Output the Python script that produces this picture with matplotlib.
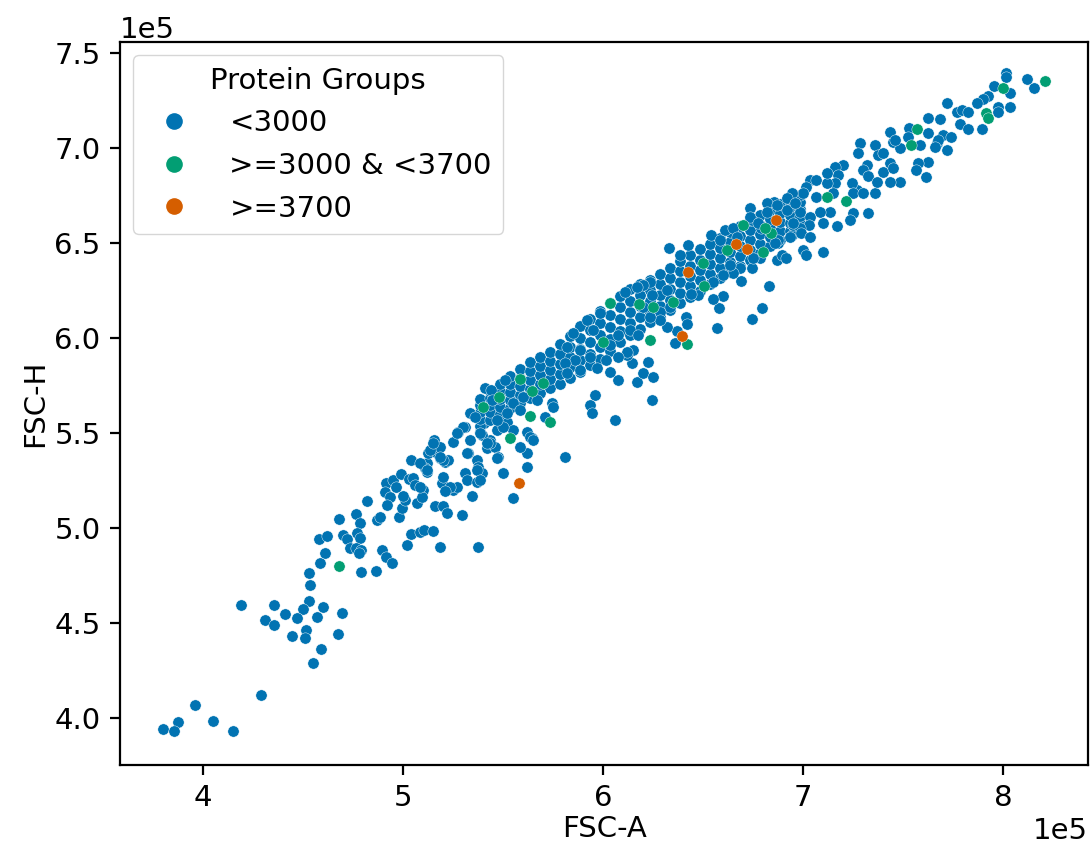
import matplotlib
matplotlib.use("Agg")
import matplotlib.pyplot as plt
from matplotlib.lines import Line2D
import numpy as np

# ---------------- data (values in units of 1e5) ----------------
categories = ["<3000", ">=3000 & <3700", ">=3700"]
colors = ["#0173b2", "#029e73", "#d55e00"]

# sparse low region
blue_low = [
    (4.535, 4.70), (4.19, 4.595), (4.355, 4.595), (4.53, 4.617), (4.60, 4.584),
    (4.50, 4.574), (4.41, 4.547), (4.47, 4.528), (4.57, 4.533), (4.695, 4.553),
    (4.31, 4.516), (4.355, 4.489), (4.515, 4.463), (4.445, 4.432), (4.51, 4.421),
    (4.675, 4.442), (4.59, 4.363), (4.55, 4.289), (4.29, 4.121), (3.96, 4.068),
    (3.875, 3.98), (3.80, 3.942), (3.855, 3.932), (4.05, 3.986), (4.15, 3.933),
]
blue_mid_low = [
    (4.53, 4.765), (4.585, 4.817), (4.61, 4.867), (4.58, 4.94), (4.62, 4.958),
    (4.68, 5.046), (4.70, 4.963), (4.72, 4.94), (4.735, 4.893), (4.765, 5.072),
    (4.785, 5.025), (4.77, 4.972), (4.785, 4.946), (4.765, 4.893), (4.79, 4.884),
    (4.78, 4.867), (4.79, 4.77), (4.82, 5.142), (4.865, 4.775), (4.87, 5.042),
    (4.885, 5.06), (4.895, 4.884), (4.915, 4.849), (4.945, 4.817), (4.915, 5.238),
    (4.91, 5.191), (4.935, 5.165), (4.92, 5.121), (4.95, 5.253), (4.99, 5.283),
    (4.965, 5.217), (4.98, 5.06), (4.995, 5.104), (5.01, 5.147), (5.00, 5.168),
    (5.02, 4.911), (5.04, 4.967), (5.03, 5.256), (5.05, 5.261), (5.04, 5.358),
    (5.06, 5.226), (5.07, 5.13), (5.085, 4.98), (5.105, 4.989), (5.15, 4.986),
    (5.10, 5.20), (5.095, 5.162), (5.12, 5.34), (5.125, 5.393), (5.11, 5.314),
    (5.12, 5.296), (5.155, 5.463), (5.16, 5.419), (5.17, 5.393), (5.16, 5.116),
    (5.185, 4.898), (5.20, 5.116), (5.22, 5.081), (5.195, 5.235), (5.20, 5.27),
    (5.185, 5.367), (5.21, 5.349), (5.225, 5.358), (5.25, 5.20), (5.27, 5.217),
    (5.295, 5.068), (5.25, 5.454), (5.275, 5.507), (5.31, 5.533), (5.325, 5.393),
    (5.31, 5.288), (5.32, 5.253), (5.345, 5.168), (5.37, 5.244), (5.37, 5.358),
    (5.375, 5.323), (5.375, 4.898), (5.395, 5.291), (5.385, 5.507), (5.42, 5.419),
    (5.435, 5.463), (5.46, 5.428), (5.475, 5.375), (5.50, 5.288), (5.47, 5.516),
    (5.55, 5.156), (5.51, 5.551),
    (5.62, 5.507), (5.645, 5.472), (5.185, 5.428), (5.135, 5.411), (5.085, 5.341),
    (5.12, 5.305), (5.20, 5.358), (5.37, 5.305), (5.385, 5.253), (5.235, 5.217),
    (5.47, 5.367), (5.435, 5.446), (5.395, 5.489), (5.405, 5.551), (5.455, 5.604),
    (5.535, 5.708), (5.52, 5.56), (5.55, 5.516), (5.085, 5.217), (5.21, 5.193),
]
blue_mid = [
    (5.51, 5.779), (5.41, 5.735), (5.44, 5.726), (5.445, 5.674), (5.335, 5.604),
    (5.36, 5.586), (5.30, 5.533), (5.27, 5.498), (5.15, 5.446), (5.185, 5.375),
    (5.335, 5.463), (5.385, 5.498), (5.42, 5.446), (5.32, 5.393), (5.62, 5.393),
    (5.62, 5.323), (5.81, 5.375), (5.585, 5.428), (5.635, 5.481), (5.65, 5.463),
    (5.50, 5.533), (5.47, 5.568), (5.52, 5.604), (5.55, 5.656), (5.585, 5.621),
    (5.60, 5.691), (5.67, 5.674), (5.745, 5.656), (5.75, 5.638), (5.71, 5.586),
    (5.96, 5.70), (5.935, 5.647), (5.945, 5.604), (6.06, 5.568), (6.075, 5.779),
    (6.17, 5.77), (6.20, 5.814), (6.25, 5.796), (6.245, 5.674), (6.225, 5.875),
    (6.145, 5.867), (6.15, 5.937), (6.12, 5.91),
    (6.83, 6.274), (6.795, 6.156), (6.745, 6.10), (6.57, 6.051), (6.58, 6.156),
    (6.60, 6.221), (6.55, 6.203), (6.69, 6.30), (6.745, 6.367), (6.87, 6.41),
    (6.895, 6.437), (6.415, 6.112), (6.42, 6.072), (6.37, 6.038), (6.36, 5.975),
    (6.33, 6.472), (6.385, 6.437), (6.425, 6.489), (6.54, 6.542), (6.61, 6.568),
    (6.65, 6.577), (6.79, 6.577), (6.945, 6.542), (6.95, 6.595), (6.875, 6.498),
    (6.785, 6.419), (6.75, 6.419), (6.685, 6.367), (6.65, 6.34), (6.60, 6.332),
    (6.55, 6.296), (6.475, 6.226), (6.44, 6.232), (6.32, 6.253), (6.235, 6.296),
    (6.20, 6.279), (6.11, 6.244), (6.245, 6.226), (6.20, 6.165), (6.285, 6.139),
    (6.32, 6.06), (6.285, 6.095), (6.135, 6.042), (6.075, 6.016), (6.175, 6.016),
    (6.235, 6.112), (5.92, 6.095), (5.985, 6.13), (5.95, 6.042), (5.85, 6.025),
    (5.82, 5.954), (5.885, 5.937), (6.035, 5.963), (6.12, 5.928), (6.075, 5.902),
    (6.015, 5.884), (5.935, 5.902), (5.86, 5.884), (5.81, 5.867), (5.82, 5.814),
    (5.885, 5.832), (5.97, 5.84), (6.035, 5.823), (6.17, 6.27), (6.335, 6.165),
]
blue_high = [
    (7.285, 7.025), (7.36, 7.016), (7.45, 7.033), (7.485, 6.998), (7.585, 7.016),
    (7.67, 7.025), (7.72, 6.989), (7.275, 6.972), (7.375, 6.963), (7.625, 6.928),
    (7.575, 6.919), (7.565, 6.884), (7.615, 6.846), (7.485, 6.823), (7.435, 6.823),
    (7.40, 6.875), (7.435, 6.919), (7.32, 6.911), (7.30, 6.884), (7.36, 6.761),
    (7.325, 6.656), (7.27, 6.779), (7.245, 6.814), (7.20, 6.911), (7.16, 6.902),
    (7.175, 6.858), (7.16, 6.814), (7.25, 6.761), (7.30, 6.761), (7.25, 6.656),
    (7.235, 6.621), (7.17, 6.589), (7.135, 6.665), (7.085, 6.665), (7.10, 6.604),
    (7.065, 6.744), (7.035, 6.832), (7.065, 6.832), (7.015, 6.796), (7.00, 6.761),
    (6.945, 6.761), (6.92, 6.735), (6.855, 6.717), (6.82, 6.709), (6.735, 6.682),
    (6.745, 6.621), (6.92, 6.674), (6.985, 6.665), (7.035, 6.638), (7.03, 6.595),
    (6.985, 6.577), (6.95, 6.604), (6.935, 6.534), (6.99, 6.551), (7.035, 6.534),
    (6.875, 6.516), (6.86, 6.498), (7.10, 6.454), (7.00, 6.463), (7.015, 6.437),
    (6.915, 6.419), (6.635, 6.386), (6.735, 6.638), (6.67, 6.534), (6.585, 6.516),
    (6.775, 6.604), (6.82, 6.665), (6.87, 6.70), (6.96, 6.709), (7.12, 6.814),
    (7.15, 6.761), (7.12, 6.867), (7.325, 6.851), (7.37, 6.823),
    (8.015, 7.396), (8.015, 7.372), (8.12, 7.361), (8.155, 7.314), (7.955, 7.326),
    (8.035, 7.288), (7.925, 7.274), (7.90, 7.256), (7.87, 7.239), (7.975, 7.218),
    (7.975, 7.191), (8.035, 7.218), (7.895, 7.098), (7.72, 7.239), (7.77, 7.191),
    (7.795, 7.20), (7.825, 7.191), (7.785, 7.129), (7.825, 7.10), (7.685, 7.151),
    (7.625, 7.156), (7.625, 7.077), (7.70, 7.068), (7.74, 7.056), (7.675, 7.042),
    (7.66, 7.007), (7.53, 7.103), (7.525, 7.06), (7.435, 7.086), (7.46, 7.042),
    (7.40, 6.972), (7.45, 6.893),
]
# dense core of the cloud: x position and the estimated y values in that column
core_x = [5.385, 5.435, 5.485, 5.535, 5.585, 5.635, 5.685, 5.735, 5.785, 5.835,
          5.885, 5.935, 5.985, 6.035, 6.085, 6.135, 6.185, 6.235, 6.285, 6.335,
          6.385, 6.435, 6.485, 6.535, 6.585, 6.635, 6.685, 6.735, 6.785, 6.835,
          6.885, 6.935, 6.985]
core_y = [
    [5.539, 5.574, 5.610, 5.646, 5.681], [5.571, 5.609, 5.647, 5.685, 5.723],
    [5.599, 5.639, 5.679, 5.719, 5.759], [5.630, 5.673, 5.716, 5.759, 5.802],
    [5.657, 5.702, 5.747, 5.792, 5.837], [5.684, 5.732, 5.779, 5.826, 5.874],
    [5.710, 5.758, 5.805, 5.852, 5.900], [5.737, 5.785, 5.832, 5.879, 5.927],
    [5.759, 5.811, 5.863, 5.915, 5.967], [5.791, 5.846, 5.900, 5.954, 6.009],
    [5.823, 5.883, 5.942, 6.001, 6.061], [5.856, 5.917, 5.979, 6.041, 6.102],
    [5.888, 5.952, 6.016, 6.080, 6.144], [5.930, 5.994, 6.058, 6.122, 6.186],
    [5.977, 6.038, 6.100, 6.162, 6.223], [6.018, 6.078, 6.137, 6.196, 6.256],
    [6.049, 6.109, 6.168, 6.227, 6.287], [6.082, 6.138, 6.195, 6.252, 6.308],
    [6.113, 6.169, 6.226, 6.283, 6.339], [6.145, 6.201, 6.258, 6.315, 6.371],
    [6.182, 6.238, 6.295, 6.352, 6.408], [6.217, 6.272, 6.326, 6.380, 6.435],
    [6.249, 6.304, 6.358, 6.412, 6.467], [6.285, 6.337, 6.389, 6.441, 6.493],
    [6.317, 6.369, 6.421, 6.473, 6.525], [6.349, 6.401, 6.453, 6.505, 6.557],
    [6.380, 6.432, 6.484, 6.536, 6.588], [6.412, 6.464, 6.516, 6.568, 6.620],
    [6.448, 6.497, 6.547, 6.597, 6.646], [6.484, 6.532, 6.579, 6.626, 6.674],
    [6.515, 6.563, 6.610, 6.657, 6.705], [6.561, 6.604, 6.647, 6.690, 6.733],
    [6.603, 6.641, 6.679, 6.717, 6.755],
]
green_pts = [
    (4.68, 4.80), (5.535, 5.472), (6.035, 6.183), (6.18, 6.179), (6.25, 6.165),
    (6.00, 5.98), (6.235, 5.989), (5.70, 5.765), (5.585, 5.783), (5.645, 5.723),
    (5.48, 5.691), (5.40, 5.638), (5.635, 5.589), (5.735, 5.56), (6.70, 6.595),
    (6.84, 6.554), (6.80, 6.454), (6.62, 6.463), (6.50, 6.393), (6.505, 6.275),
    (6.35, 6.191), (6.42, 5.967), (7.54, 7.016), (7.12, 6.74), (7.215, 6.721),
    (6.81, 6.577), (8.21, 7.354), (8.00, 7.314), (7.915, 7.182), (7.925, 7.156),
    (7.57, 7.098),
]
orange_pts = [
    (5.58, 5.235), (6.865, 6.621), (6.665, 6.495), (6.72, 6.468), (6.425, 6.349),
    (6.395, 6.011),
]
x_ticks = [4, 5, 6, 7, 8]
y_ticks = [4.0, 4.5, 5.0, 5.5, 6.0, 6.5, 7.0, 7.5]
SCALE = 1e5

# ---------------- assemble ----------------
core_pts = [(cx, cy) for cx, ys in zip(core_x, core_y) for cy in ys]
blue_all = blue_low + blue_mid_low + core_pts + blue_mid + blue_high
groups = [blue_all, green_pts, orange_pts]

plt.rcParams["font.family"] = ["DejaVu Sans"]
plt.rcParams["font.size"] = 21
plt.rcParams["axes.linewidth"] = 1.6
for a in ("xtick", "ytick"):
    plt.rcParams[f"{a}.major.size"] = 7
    plt.rcParams[f"{a}.major.width"] = 1.6
    plt.rcParams[f"{a}.major.pad"] = 7

fig = plt.figure(figsize=(10.91, 8.47), dpi=100)
ax = fig.add_axes([0.110, 0.0968, 0.8873, 0.8536])

for pts, col, lab in zip(groups, colors, categories):
    arr = np.array(pts) * SCALE
    ax.scatter(arr[:, 0], arr[:, 1], s=66, c=col, edgecolors="white",
               linewidths=0.3, label=lab, zorder=2)

ax.set_xlim(3.585 * SCALE, 8.425 * SCALE)
ax.set_ylim(3.753 * SCALE, 7.558 * SCALE)
ax.set_xticks([v * SCALE for v in x_ticks])
ax.set_yticks([v * SCALE for v in y_ticks])
ax.ticklabel_format(style="sci", axis="both", scilimits=(0, 0))
ax.set_xlabel("FSC-A", labelpad=2)
ax.set_ylabel("FSC-H", labelpad=4)

handles = [Line2D([0], [0], marker="o", linestyle="none", markersize=13,
                  markerfacecolor=c, markeredgecolor="white", markeredgewidth=1)
           for c in colors]
ax.legend(handles, categories, title="Protein Groups", loc="upper left",
          fontsize=21, title_fontsize=21, handletextpad=0.9,
          borderaxespad=0.45)

fig.savefig("out.png", dpi=100)
